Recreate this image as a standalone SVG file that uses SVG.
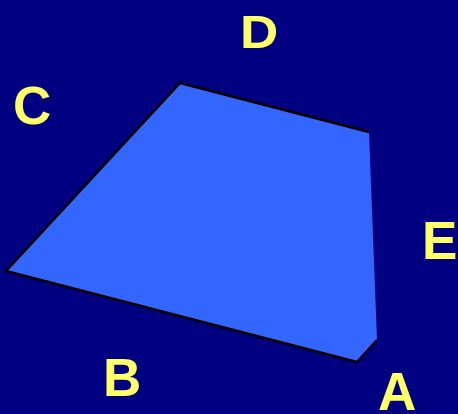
<svg xmlns="http://www.w3.org/2000/svg" width="458" height="414" viewBox="0 0 458 414">
<style>
.lbl{font-family:"Liberation Sans",Arial,sans-serif;font-weight:bold;font-size:53px;fill:#FFFF66}
.edge{fill:none;stroke:#000;stroke-width:2.5;stroke-linejoin:miter}
</style>
<rect x="0" y="0" width="458" height="414" fill="#000080"/>
<g id="shape">
<polygon points="377,340 357,362 6,271 180,83 369,132" fill="#3366FF"/>
</g>
<g id="edges">
<polyline class="edge" points="377,340 357,362 6,271 180,83 369,132"/>
</g>
<g id="label-A"><text class="lbl" x="378" y="410">A</text></g>
<g id="label-B"><text class="lbl" x="103" y="396">B</text></g>
<g id="label-C"><text class="lbl" x="13" y="124">C</text></g>
<g id="label-D"><text class="lbl" transform="translate(240,48) scale(1,0.87)" x="0" y="0">D</text></g>
<g id="label-E"><text class="lbl" x="422" y="259">E</text></g>
</svg>
